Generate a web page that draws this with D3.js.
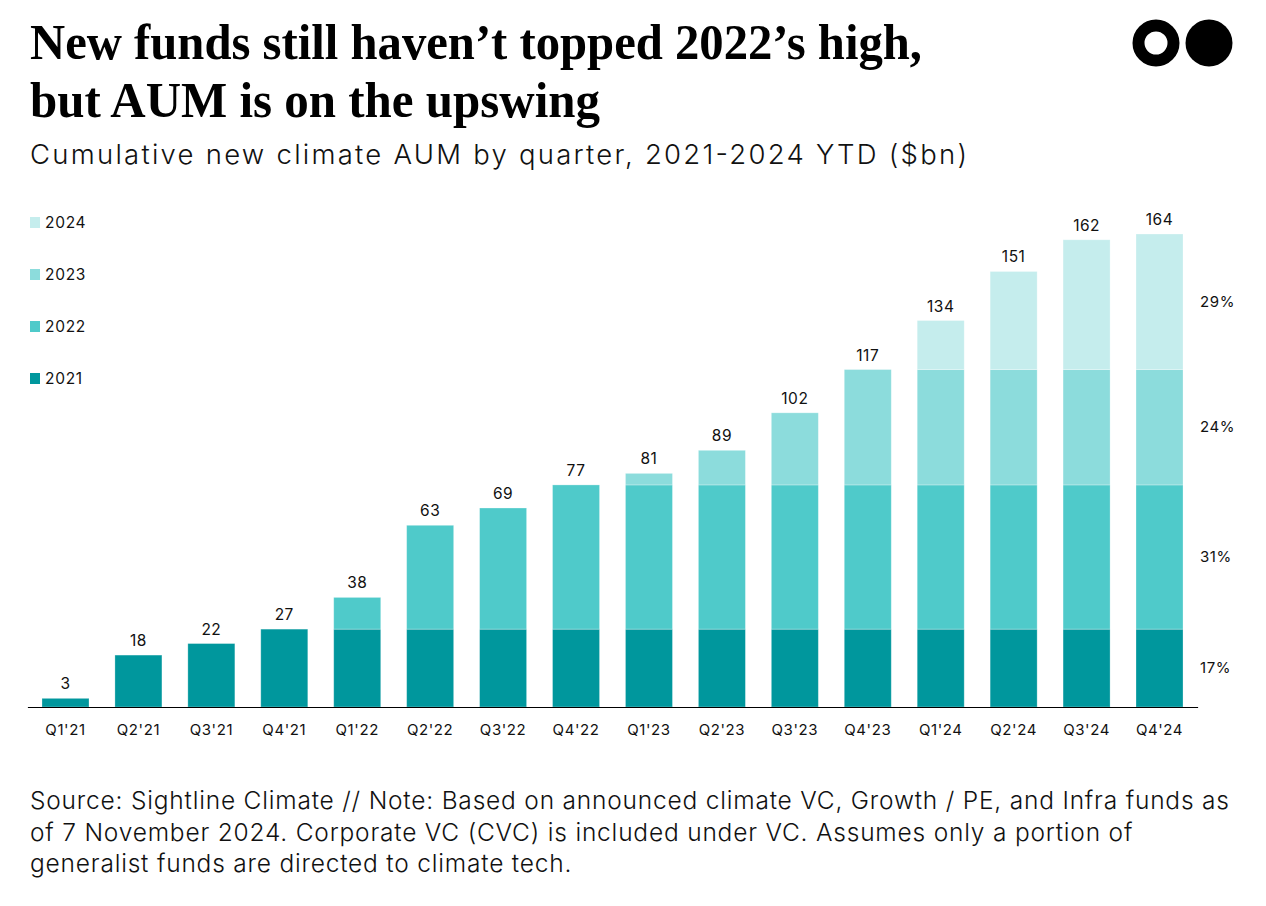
<!DOCTYPE html>
<html><head><meta charset="utf-8">
<script src="https://cdn.jsdelivr.net/npm/d3@7"></script>
<style>body{margin:0;background:#fff}svg{display:block}</style>
</head><body>
<svg id="c" width="1266" height="906"></svg>
<script>
const quarters = ["Q1'21","Q2'21","Q3'21","Q4'21","Q1'22","Q2'22","Q3'22","Q4'22","Q1'23","Q2'23","Q3'23","Q4'23","Q1'24","Q2'24","Q3'24","Q4'24"];
const years = ["2021","2022","2023","2024"];
const v2021 = [3,18,22,27,27,27,27,27,27,27,27,27,27,27,27,27];
const v2022 = [0,0,0,0,11,36,42,50,50,50,50,50,50,50,50,50];
const v2023 = [0,0,0,0,0,0,0,0,4,12,25,40,40,40,40,40];
const v2024 = [0,0,0,0,0,0,0,0,0,0,0,0,17,34,45,47];
const totals = [3,18,22,27,38,63,69,77,81,89,102,117,134,151,162,164];
const shareLabels = ["17%","31%","24%","29%"];
const colors = ["#00979d","#4fcaca","#8cdcdc","#c5eded"];

const svg = d3.select("#c");
const sans = "Inter, 'Noto Sans', sans-serif";

// Title
const t = svg.append("text").attr("font-family","'Liberation Serif','DejaVu Serif',serif").attr("font-weight",700).attr("font-size",50).attr("fill","#000");
t.append("tspan").attr("x",30).attr("y",59).attr("textLength",892).attr("lengthAdjust","spacingAndGlyphs").text("New funds still haven\u2019t topped 2022\u2019s high,");
t.append("tspan").attr("x",30).attr("y",117).attr("textLength",570).attr("lengthAdjust","spacingAndGlyphs").text("but AUM is on the upswing");
svg.append("text").attr("x",30).attr("y",164).attr("font-family",sans).attr("font-weight",300).attr("font-size",27.5).attr("fill","#111")
  .attr("textLength",937).attr("lengthAdjust","spacing")
  .text("Cumulative new climate AUM by quarter, 2021-2024 YTD ($bn)");

// Logo
svg.append("circle").attr("cx",1156).attr("cy",43).attr("r",17.5).attr("fill","none").attr("stroke","#000").attr("stroke-width",12);
svg.append("circle").attr("cx",1209).attr("cy",43).attr("r",23.5).attr("fill","#000");

// Scales
const x = d3.scaleBand().domain(quarters).range([27.4,1197.6]).paddingInner(0.3555).paddingOuter(0.2);
const y = d3.scaleLinear().domain([0,164]).range([707,234]);

const rows = quarters.map((q,i)=>({q, "2021":v2021[i], "2022":v2022[i], "2023":v2023[i], "2024":v2024[i]}));
const stack = d3.stack().keys(years)(rows);

svg.append("g").selectAll("g").data(stack).join("g").attr("fill",(d,i)=>colors[i])
  .selectAll("rect").data(d=>d.filter(p=>p[1]-p[0]>0)).join("rect")
  .attr("x",d=>x(d.data.q)).attr("width",x.bandwidth())
  .attr("y",d=>y(d[1])).attr("height",d=>y(d[0])-y(d[1]))
  .attr("stroke","rgba(255,255,255,0.35)").attr("stroke-width",0.8);

// totals
svg.append("g").selectAll("text").data(totals).join("text")
  .attr("x",(d,i)=>x(quarters[i])+x.bandwidth()/2).attr("y",d=>y(d)-9)
  .attr("text-anchor","middle").attr("font-family",sans).attr("font-size",15.5).attr("letter-spacing",0.5).attr("fill","#111").text(d=>d);

// axis
const ax = svg.append("g").attr("transform","translate(0,707)").call(d3.axisBottom(x).tickSize(0).tickPadding(17));
ax.select(".domain").attr("stroke","#000").attr("stroke-width",1.2);
ax.selectAll("text").attr("font-family",sans).attr("font-size",15).attr("letter-spacing",0.6).attr("fill","#111");

// share labels
const last = rows.length-1;
svg.append("g").selectAll("text").data(stack).join("text")
  .attr("x",1200).attr("y",(d,i)=>(y(d[last][0])+y(d[last][1]))/2+5)
  .attr("font-family",sans).attr("font-size",15).attr("letter-spacing",0.6).attr("fill","#111").text((d,i)=>shareLabels[i]);

// legend
const lg = svg.append("g").selectAll("g").data(years.slice().reverse()).join("g")
  .attr("transform",(d,i)=>`translate(30,${228+i*52})`);
lg.append("rect").attr("x",0).attr("y",-11).attr("width",10).attr("height",11).attr("fill",(d)=>colors[years.indexOf(d)]);
lg.append("text").attr("x",15).attr("y",0).attr("font-family",sans).attr("font-size",15.5).attr("letter-spacing",0.7).attr("fill","#111").text(d=>d);

// footnote
const notes = ["Source: Sightline Climate // Note: Based on announced climate VC, Growth / PE, and Infra funds as",
"of 7 November 2024. Corporate VC (CVC) is included under VC. Assumes only a portion of",
"generalist funds are directed to climate tech."];
svg.append("g").selectAll("text").data(notes).join("text")
  .attr("x",30).attr("y",(d,i)=>809+i*31.5).attr("font-family",sans).attr("font-weight",300).attr("font-size",24.5).attr("letter-spacing",0.8).attr("fill","#111").text(d=>d);
</script>
</body></html>
